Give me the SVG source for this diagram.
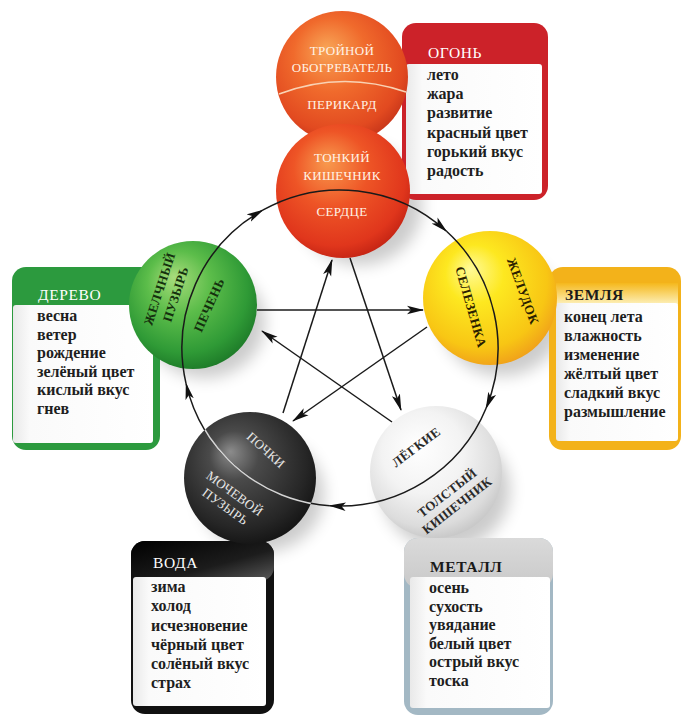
<svg xmlns="http://www.w3.org/2000/svg" width="683" height="716" viewBox="0 0 683 716">
<defs>
<style>
.item{font-family:"Liberation Serif","DejaVu Serif",serif;font-weight:bold;font-size:16px;fill:#1e1e1e}
.head{font-family:"Liberation Serif","DejaVu Serif",serif;font-size:15.5px;letter-spacing:0.6px}
.sl{font-family:"Liberation Serif","DejaVu Serif",serif;font-size:13px;text-anchor:middle;dominant-baseline:central;letter-spacing:0.3px}
.conn{fill:none;stroke:#1a1a1a;stroke-width:1.5}
.shadow{fill:#000;opacity:0.2;filter:url(#blur)}
</style>
<filter id="blur" x="-50%" y="-50%" width="200%" height="200%"><feGaussianBlur stdDeviation="8"/></filter>
<marker id="ah" markerUnits="userSpaceOnUse" markerWidth="17" markerHeight="10" viewBox="0 0 17 10" refX="16" refY="5" orient="auto"><path d="M0,0.8 L17,5 L0,9.2 L4,5 Z" fill="#111"/></marker>
<radialGradient id="gOrange" cx="0.45" cy="0.4" r="0.62" fx="0.38" fy="0.28"><stop offset="0" stop-color="#f8a456"/><stop offset="0.45" stop-color="#f06a2c"/><stop offset="0.85" stop-color="#e24a20"/><stop offset="1" stop-color="#c8361a"/></radialGradient>
<radialGradient id="gRed" cx="0.45" cy="0.4" r="0.62" fx="0.38" fy="0.28"><stop offset="0" stop-color="#f89a4e"/><stop offset="0.45" stop-color="#ee5526"/><stop offset="0.85" stop-color="#e0361c"/><stop offset="1" stop-color="#c42414"/></radialGradient>
<radialGradient id="gGreen" cx="0.45" cy="0.4" r="0.62" fx="0.35" fy="0.28"><stop offset="0" stop-color="#a8dc7c"/><stop offset="0.4" stop-color="#5cbd4a"/><stop offset="0.8" stop-color="#2f9a36"/><stop offset="1" stop-color="#1d7a28"/></radialGradient>
<radialGradient id="gYellow" cx="0.45" cy="0.4" r="0.62" fx="0.35" fy="0.28"><stop offset="0" stop-color="#fffb98"/><stop offset="0.35" stop-color="#fde820"/><stop offset="0.8" stop-color="#f8c614"/><stop offset="1" stop-color="#f0a01a"/></radialGradient>
<radialGradient id="gBlack" cx="0.45" cy="0.4" r="0.62" fx="0.35" fy="0.3"><stop offset="0" stop-color="#8c8c8c"/><stop offset="0.3" stop-color="#4a4a4a"/><stop offset="0.8" stop-color="#262626"/><stop offset="1" stop-color="#141414"/></radialGradient>
<radialGradient id="gWhite" cx="0.45" cy="0.4" r="0.62" fx="0.35" fy="0.3"><stop offset="0" stop-color="#ffffff"/><stop offset="0.5" stop-color="#f3f3f3"/><stop offset="0.85" stop-color="#dcdcdc"/><stop offset="1" stop-color="#c6c6c6"/></radialGradient>
<linearGradient id="gPanel" x1="0" y1="0" x2="1" y2="0"><stop offset="0" stop-color="#e9e9e9"/><stop offset="0.12" stop-color="#fafafa"/><stop offset="1" stop-color="#ffffff"/></linearGradient>
<linearGradient id="gWaterHead" x1="0" y1="0" x2="1" y2="1"><stop offset="0" stop-color="#000"/><stop offset="0.6" stop-color="#1c1c1c"/><stop offset="1" stop-color="#5a5a5a"/></linearGradient>
<linearGradient id="gEarthHead" x1="0" y1="0" x2="0" y2="1"><stop offset="0" stop-color="#f5b81c"/><stop offset="1" stop-color="#fdf2c0"/></linearGradient>
<linearGradient id="gMetalHead" x1="0" y1="0" x2="0" y2="1"><stop offset="0" stop-color="#dadada"/><stop offset="1" stop-color="#c9c9c9"/></linearGradient>
<clipPath id="clipBlack"><circle cx="250" cy="478" r="66"/></clipPath>
</defs>
<rect width="683" height="716" fill="#fff"/>

<g id="shadows">
<ellipse class="shadow" cx="360" cy="205" rx="62" ry="60"/>
<ellipse class="shadow" cx="205" cy="322" rx="60" ry="56"/>
<ellipse class="shadow" cx="502" cy="316" rx="62" ry="60"/>
<ellipse class="shadow" cx="262" cy="494" rx="62" ry="58"/>
<ellipse class="shadow" cx="446" cy="490" rx="64" ry="60"/>
</g>

<g id="box-fire">
<rect x="402" y="23" width="146" height="177" rx="14" fill="#cc2229"/>
<rect x="406" y="64" width="136" height="130" rx="3" fill="url(#gPanel)"/>
<text class="head" x="428" y="58" fill="#fff">ОГОНЬ</text>
<text class="item" x="427" y="80">лето</text>
<text class="item" x="427" y="99">жара</text>
<text class="item" x="427" y="118">развитие</text>
<text class="item" x="427" y="138">красный цвет</text>
<text class="item" x="427" y="157">горький вкус</text>
<text class="item" x="427" y="176">радость</text>
</g>

<g id="box-wood">
<rect x="12" y="267" width="148" height="183" rx="14" fill="#2c9a3e"/>
<rect x="13" y="305" width="140" height="138" rx="3" fill="url(#gPanel)"/>
<text class="head" x="38" y="300" fill="#fff">ДЕРЕВО</text>
<text class="item" x="37" y="321">весна</text>
<text class="item" x="37" y="339.5">ветер</text>
<text class="item" x="37" y="358">рождение</text>
<text class="item" x="37" y="376.5">зелёный цвет</text>
<text class="item" x="37" y="395">кислый вкус</text>
<text class="item" x="37" y="413.5">гнев</text>
</g>

<g id="box-earth">
<rect x="549" y="267" width="132" height="183" rx="14" fill="#f3b21a"/>
<rect x="556" y="283" width="122" height="22" fill="url(#gEarthHead)"/>
<rect x="556" y="303" width="122" height="138" rx="3" fill="url(#gPanel)"/>
<text class="head" x="565" y="300" fill="#1a1a1a" font-weight="bold">ЗЕМЛЯ</text>
<text class="item" x="564" y="322">конец лета</text>
<text class="item" x="564" y="341">влажность</text>
<text class="item" x="564" y="360">изменение</text>
<text class="item" x="564" y="379">жёлтый цвет</text>
<text class="item" x="564" y="398">сладкий вкус</text>
<text class="item" x="564" y="417">размышление</text>
</g>

<g id="box-water">
<rect x="131" y="541" width="143" height="173" rx="14" fill="#111"/>
<rect x="131" y="541" width="143" height="40" rx="14" fill="url(#gWaterHead)"/>
<rect x="133" y="577" width="133" height="129" rx="3" fill="url(#gPanel)"/>
<text class="head" x="153" y="568" fill="#fff">ВОДА</text>
<text class="item" x="151" y="592">зима</text>
<text class="item" x="151" y="611">холод</text>
<text class="item" x="151" y="630.5">исчезновение</text>
<text class="item" x="151" y="649.5">чёрный цвет</text>
<text class="item" x="151" y="669">солёный вкус</text>
<text class="item" x="151" y="688">страх</text>
</g>

<g id="box-metal">
<rect x="404" y="538" width="149" height="177" rx="14" fill="#a3b8c4"/>
<rect x="404" y="538" width="149" height="50" rx="14" fill="url(#gMetalHead)"/>
<rect x="410" y="577" width="140" height="131" rx="3" fill="url(#gPanel)"/>
<text class="head" x="430" y="572" fill="#1a1a1a" font-weight="bold">МЕТАЛЛ</text>
<text class="item" x="429" y="593">осень</text>
<text class="item" x="429" y="611.5">сухость</text>
<text class="item" x="429" y="630">увядание</text>
<text class="item" x="429" y="648.5">белый цвет</text>
<text class="item" x="429" y="667">острый вкус</text>
<text class="item" x="429" y="685.5">тоска</text>
</g>

<g id="sphere-triple-heater">
<circle cx="342" cy="77" r="66" fill="url(#gOrange)"/>
<path d="M279 94 Q342 70 406 92" fill="none" stroke="#f9d2b4" stroke-width="1.6"/>
<text class="sl" x="342" y="50" fill="#fff3e6">ТРОЙНОЙ</text>
<text class="sl" x="342" y="67" fill="#fff3e6">ОБОГРЕВАТЕЛЬ</text>
<text class="sl" x="342" y="104" fill="#fff3e6">ПЕРИКАРД</text>
</g>

<g id="sphere-heart">
<circle cx="343" cy="191" r="67" fill="url(#gRed)"/>
<text class="sl" x="342" y="157" fill="#fff3e6">ТОНКИЙ</text>
<text class="sl" x="342" y="175" fill="#fff3e6">КИШЕЧНИК</text>
<text class="sl" x="342" y="211" fill="#fff3e6">СЕРДЦЕ</text>
</g>

<g id="sphere-liver">
<circle cx="193" cy="305" r="64" fill="url(#gGreen)"/>
<g transform="translate(167.5 291.5) rotate(-72)" fill="#15300e" font-weight="bold">
<text class="sl" x="0" y="-8.5">ЖЕЛЧНЫЙ</text>
<text class="sl" x="0" y="8.5">ПУЗЫРЬ</text>
</g>
<text class="sl" transform="translate(209 305) rotate(-66)" fill="#15300e" font-weight="bold">ПЕЧЕНЬ</text>
</g>

<g id="sphere-spleen">
<circle cx="490" cy="298" r="67" fill="url(#gYellow)"/>
<text class="sl" transform="translate(471 307) rotate(74)" fill="#2a2000" font-weight="bold" font-size="13.5">СЕЛЕЗЕНКА</text>
<text class="sl" transform="translate(523 291) rotate(70)" fill="#2a2000" font-weight="bold" font-size="14">ЖЕЛУДОК</text>
</g>

<g id="sphere-kidneys">
<circle cx="250" cy="478" r="66" fill="url(#gBlack)"/>
<text class="sl" transform="translate(266 450) rotate(42)" fill="#e6e6e6" font-size="13.5">ПОЧКИ</text>
<g transform="translate(230 500) rotate(36)" fill="#e6e6e6">
<text class="sl" x="0" y="-8" font-size="13.5">МОЧЕВОЙ</text>
<text class="sl" x="0" y="8" font-size="13.5">ПУЗЫРЬ</text>
</g>
</g>

<g id="sphere-lungs">
<circle cx="436" cy="472" r="66" fill="url(#gWhite)"/>
<text class="sl" transform="translate(416 447) rotate(-37)" fill="#2a2a2a" font-weight="bold">ЛЁГКИЕ</text>
<g transform="translate(452 499) rotate(-38)" fill="#2a2a2a" font-weight="bold">
<text class="sl" x="0" y="-8">ТОЛСТЫЙ</text>
<text class="sl" x="0" y="8">КИШЕЧНИК</text>
</g>
</g>

<g id="connectors">
<path class="conn" marker-end="url(#ah)" d="M186.05 383.55 A158 158 0 0 1 262.67 210.21"/>
<path class="conn" marker-end="url(#ah)" d="M262.67 210.21 A158 158 0 0 1 446.54 231.32"/>
<path class="conn" marker-end="url(#ah)" d="M446.54 231.32 A158 158 0 0 1 486.07 408.21"/>
<path class="conn" marker-end="url(#ah)" d="M486.07 408.21 A158 158 0 0 1 329.81 505.67"/>
<path class="conn" marker-end="url(#ah)" d="M329.81 505.67 A158 158 0 0 1 186.05 383.55"/>
<circle cx="340" cy="348" r="158" fill="none" stroke="#d4d4d4" stroke-width="1.6" clip-path="url(#clipBlack)"/>
<path class="conn" marker-end="url(#ah)" d="M257 310 L423 310"/>
<path class="conn" marker-end="url(#ah)" d="M350 258 L401 410"/>
<path class="conn" marker-end="url(#ah)" d="M283 413 L332 260"/>
<path class="conn" marker-end="url(#ah)" d="M427 327 L293 421"/>
<path class="conn" marker-end="url(#ah)" d="M392 422 L262 331"/>
</g>
</svg>
